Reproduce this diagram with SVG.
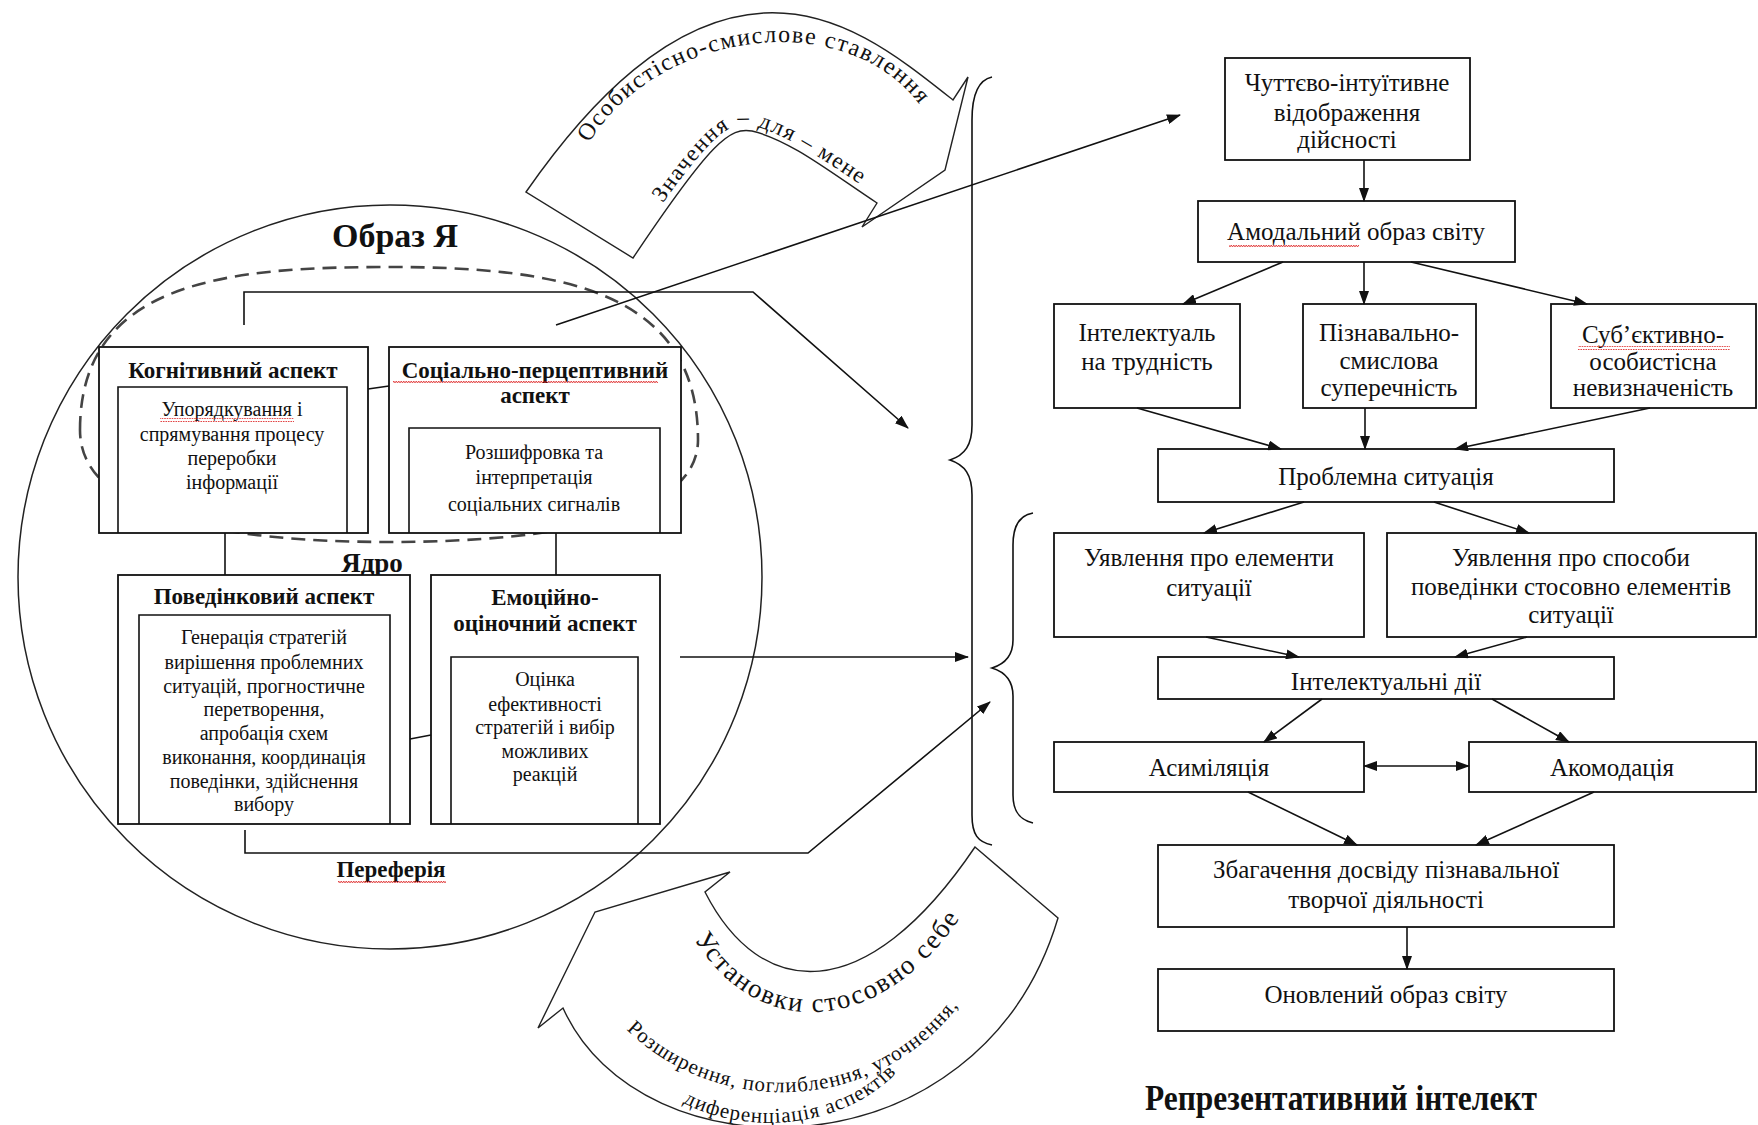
<svg xmlns="http://www.w3.org/2000/svg" width="1758" height="1125" viewBox="0 0 1758 1125">
<style>
.bx{fill:#fff;stroke:#111;stroke-width:1.8}
.in{fill:none;stroke:#111;stroke-width:1.6}
.ln{fill:none;stroke:#111;stroke-width:1.6}
.t{font-family:'Liberation Serif','Times New Roman',serif;fill:#111;text-anchor:middle}
.r{font-size:25px}
.s{font-size:20px}
.h{font-size:23px;font-weight:bold}
.sh{fill:#fff;stroke:#222;stroke-width:1.4}
.wv{fill:url(#wave)}
</style>
<defs>
<marker id="ah" markerWidth="14" markerHeight="10" refX="13" refY="5" orient="auto" markerUnits="userSpaceOnUse"><path d="M0,0 L14,5 L0,10 z" fill="#111"/></marker>
<marker id="as" markerWidth="14" markerHeight="10" refX="13" refY="5" orient="auto-start-reverse" markerUnits="userSpaceOnUse"><path d="M0,0 L14,5 L0,10 z" fill="#111"/></marker>
<pattern id="wave" width="5" height="4" patternUnits="userSpaceOnUse"><path d="M0,3 L1.25,1 L2.5,3 L3.75,1 L5,3" fill="none" stroke="#d22" stroke-width="0.8"/></pattern>
<path id="tp1" d="M585,150 C650,30 850,0 925,112"/>
<path id="tp2" d="M628,254 C707,136 727,122 750,125 C789,134 832,166 879,197"/>
<path id="tp3" d="M690,932 C755,1047 885,1037 965,910"/>
<path id="tp4" d="M615,1018 C715,1128 890,1113 968,992"/>
<path id="tp5" d="M665,1092 C740,1144 860,1129 910,1056"/>
</defs>
<rect width="1758" height="1125" fill="#fff"/>

<!-- curved arrows -->
<g id="arrow-top">
<path class="sh" d="M526,192 C590,100 670,18 764,13 C840,9 900,58 953,100 L968,77 L945,170 L862,227 L877,203 C830,172 790,140 752,131 C730,127 712,140 633,258 Z"/>
<text class="t" style="font-size:24px;letter-spacing:1.5px"><textPath href="#tp1" startOffset="50%">Особистісно-смислове ставлення</textPath></text>
<text class="t" style="font-size:23px;letter-spacing:1.5px"><textPath href="#tp2" startOffset="56%">Значення – для – мене</textPath></text>
</g>
<g id="arrow-bottom">
<path class="sh" d="M730,872 L705,892 C760,1000 865,1010 975,847 L1058,918 C980,1180 640,1180 563,1008 L538,1028 L595,912 Z"/>
<text class="t" style="font-size:27px;letter-spacing:1.8px"><textPath href="#tp3" startOffset="50%">Установки стосовно себе</textPath></text>
<text class="t" style="font-size:21px;letter-spacing:1px"><textPath href="#tp4" startOffset="50%">Розширення, поглиблення, уточнення,</textPath></text>
<text class="t" style="font-size:21px;letter-spacing:1px"><textPath href="#tp5" startOffset="50%">диференціація аспектів</textPath></text>
</g>

<!-- Образ Я -->
<g id="obraz-ya">
<circle cx="390" cy="577" r="372" fill="none" stroke="#222" stroke-width="1.5"/>
<text class="t" x="395" y="247" style="font-size:34px;font-weight:bold">Образ Я</text>
<path d="M80,430 C80,280 230,267 389,267 C560,267 698,290 698,440 C698,515 560,542 389,542 C220,542 80,515 80,430 Z" fill="none" stroke="#444" stroke-width="2.6" stroke-dasharray="14 8"/>
<text class="t" x="372" y="572" style="font-size:27px;font-weight:bold">Ядро</text>
<text class="t" x="391" y="877" style="font-size:23px;font-weight:bold">Переферія</text>
<rect class="wv" x="338" y="879" width="108" height="4"/>
</g>

<g id="kognityvnyi">
<rect class="bx" x="99" y="347" width="269" height="186"/>
<path class="in" d="M118,533 V387 H347 V533"/>
<text class="t h" x="233" y="378">Когнітивний аспект</text>
<text class="t s" x="232" y="416">Упорядкування і<tspan x="232" dy="25">спрямування процесу</tspan><tspan x="232" dy="24">переробки</tspan><tspan x="232" dy="24">інформації</tspan></text>
<rect class="wv" x="160" y="418" width="134" height="4"/>
</g>

<g id="sotsialno">
<rect class="bx" x="389" y="347" width="292" height="186"/>
<path class="in" d="M409,533 V428 H660 V533"/>
<text class="t h" x="535" y="378">Соціально-перцептивний<tspan x="535" dy="25">аспект</tspan></text>
<rect class="wv" x="393" y="381" width="265" height="4"/>
<text class="t s" x="534" y="459">Розшифровка та<tspan x="534" dy="25">інтерпретація</tspan><tspan x="534" dy="27">соціальних сигналів</tspan></text>
</g>

<g id="povedinkovyi">
<rect class="bx" x="118" y="575" width="292" height="249"/>
<path class="in" d="M139,824 V615 H390 V824"/>
<text class="t h" x="264" y="604">Поведінковий аспект</text>
<text class="t s" x="264" y="644">Генерація стратегій<tspan x="264" dy="25">вирішення проблемних</tspan><tspan x="264" dy="24">ситуацій, прогностичне</tspan><tspan x="264" dy="23">перетворення,</tspan><tspan x="264" dy="24">апробація схем</tspan><tspan x="264" dy="24">виконання, координація</tspan><tspan x="264" dy="24">поведінки, здійснення</tspan><tspan x="264" dy="23">вибору</tspan></text>
</g>

<g id="emotsiino">
<rect class="bx" x="431" y="575" width="229" height="249"/>
<path class="in" d="M451,824 V657 H638 V824"/>
<text class="t h" x="545" y="605">Емоційно-<tspan x="545" dy="26">оціночний аспект</tspan></text>
<text class="t s" x="545" y="686">Оцінка<tspan x="545" dy="25">ефективності</tspan><tspan x="545" dy="23">стратегій і вибір</tspan><tspan x="545" dy="24">можливих</tspan><tspan x="545" dy="23">реакцій</tspan></text>
</g>

<!-- right column -->
<g id="chuttievo">
<rect class="bx" x="1225" y="58" width="245" height="102"/>
<text class="t r" x="1347" y="91">Чуттєво-інтуїтивне<tspan x="1347" dy="30">відображення</tspan><tspan x="1347" dy="27">дійсності</tspan></text>
</g>
<g id="amodalnyi">
<rect class="bx" x="1198" y="201" width="317" height="61"/>
<text class="t r" x="1356" y="240">Амодальний образ світу</text>
<rect class="wv" x="1229" y="243" width="130" height="4"/>
</g>
<g id="trudnist">
<rect class="bx" x="1054" y="304" width="186" height="104"/>
<text class="t r" x="1147" y="341">Інтелектуаль<tspan x="1147" dy="29">на трудність</tspan></text>
</g>
<g id="superechnist">
<rect class="bx" x="1303" y="304" width="173" height="104"/>
<text class="t r" x="1389" y="341">Пізнавально-<tspan x="1389" dy="28">смислова</tspan><tspan x="1389" dy="27">суперечність</tspan></text>
</g>
<g id="nevyznachenist">
<rect class="bx" x="1551" y="304" width="205" height="104"/>
<text class="t r" x="1653" y="343">Суб’єктивно-<tspan x="1653" dy="27">особистісна</tspan><tspan x="1653" dy="26">невизначеність</tspan></text>
<rect class="wv" x="1578" y="346" width="152" height="4"/>
</g>
<g id="problemna">
<rect class="bx" x="1158" y="449" width="456" height="53"/>
<text class="t r" x="1386" y="485">Проблемна ситуація</text>
</g>
<g id="uyavlennia-elementy">
<rect class="bx" x="1054" y="533" width="310" height="104"/>
<text class="t r" x="1209" y="566">Уявлення про елементи<tspan x="1209" dy="30">ситуації</tspan></text>
</g>
<g id="uyavlennia-sposoby">
<rect class="bx" x="1387" y="533" width="369" height="104"/>
<text class="t r" x="1571" y="566">Уявлення про способи<tspan x="1571" dy="29">поведінки стосовно елементів</tspan><tspan x="1571" dy="28">ситуації</tspan></text>
</g>
<g id="intelektualni-dii">
<rect class="bx" x="1158" y="657" width="456" height="42"/>
<text class="t r" x="1386" y="690">Інтелектуальні дії</text>
</g>
<g id="asymiliatsiia">
<rect class="bx" x="1054" y="742" width="310" height="50"/>
<text class="t r" x="1209" y="776">Асиміляція</text>
</g>
<g id="akomodatsiia">
<rect class="bx" x="1469" y="742" width="287" height="50"/>
<text class="t r" x="1612" y="776">Акомодація</text>
</g>
<g id="zbagachennia">
<rect class="bx" x="1158" y="845" width="456" height="82"/>
<text class="t r" x="1386" y="878">Збагачення досвіду пізнавальної<tspan x="1386" dy="30">творчої діяльності</tspan></text>
</g>
<g id="onovlenyi">
<rect class="bx" x="1158" y="969" width="456" height="62"/>
<text class="t r" x="1386" y="1003">Оновлений образ світу</text>
</g>
<g id="title-intelekt">
<text class="t" x="1341" y="1110" textLength="392" lengthAdjust="spacingAndGlyphs" style="font-size:35px;font-weight:bold">Репрезентативний інтелект</text>
</g>

<!-- braces -->
<g id="braces">
<path class="ln" d="M992,77 C978,80 972,95 972,120 L972,425 C972,445 965,455 950,460 C965,465 972,475 972,495 L972,815 C972,835 978,842 992,845"/>
<path class="ln" d="M1033,513 C1020,515 1013,525 1013,545 L1013,640 C1013,655 1005,664 992,668 C1005,672 1013,681 1013,696 L1013,795 C1013,812 1020,820 1033,823"/>
</g>

<g id="connectors">
<path class="ln" d="M225,533 V575"/>
<path class="ln" d="M556,533 V575"/>
<path class="ln" d="M368,389 L389,386"/>
<path class="ln" d="M410,739 L431,735"/>
<path class="ln" marker-end="url(#ah)" d="M556,325 L1180,115"/>
<path class="ln" marker-end="url(#ah)" d="M244,325 V292 H753 L908,428"/>
<path class="ln" marker-end="url(#ah)" d="M245,830 V853 H808 L990,702"/>
<path class="ln" marker-end="url(#ah)" d="M680,657 H968"/>
<path class="ln" marker-end="url(#ah)" d="M1364,160 V201"/>
<path class="ln" marker-end="url(#ah)" d="M1283,262 L1183,304"/>
<path class="ln" marker-end="url(#ah)" d="M1364,262 V304"/>
<path class="ln" marker-end="url(#ah)" d="M1411,262 L1587,304"/>
<path class="ln" marker-end="url(#ah)" d="M1137,408 L1281,449"/>
<path class="ln" marker-end="url(#ah)" d="M1365,408 V449"/>
<path class="ln" marker-end="url(#ah)" d="M1650,408 L1455,449"/>
<path class="ln" marker-end="url(#ah)" d="M1304,502 L1204,533"/>
<path class="ln" marker-end="url(#ah)" d="M1434,502 L1529,533"/>
<path class="ln" marker-end="url(#ah)" d="M1206,637 L1299,657"/>
<path class="ln" marker-end="url(#ah)" d="M1527,637 L1455,657"/>
<path class="ln" marker-end="url(#ah)" d="M1322,699 L1264,742"/>
<path class="ln" marker-end="url(#ah)" d="M1492,699 L1569,742"/>
<path class="ln" marker-start="url(#as)" marker-end="url(#ah)" d="M1364,766 H1469"/>
<path class="ln" marker-end="url(#ah)" d="M1248,792 L1357,845"/>
<path class="ln" marker-end="url(#ah)" d="M1594,792 L1476,845"/>
<path class="ln" marker-end="url(#ah)" d="M1407,927 V969"/>
</g>
</svg>
